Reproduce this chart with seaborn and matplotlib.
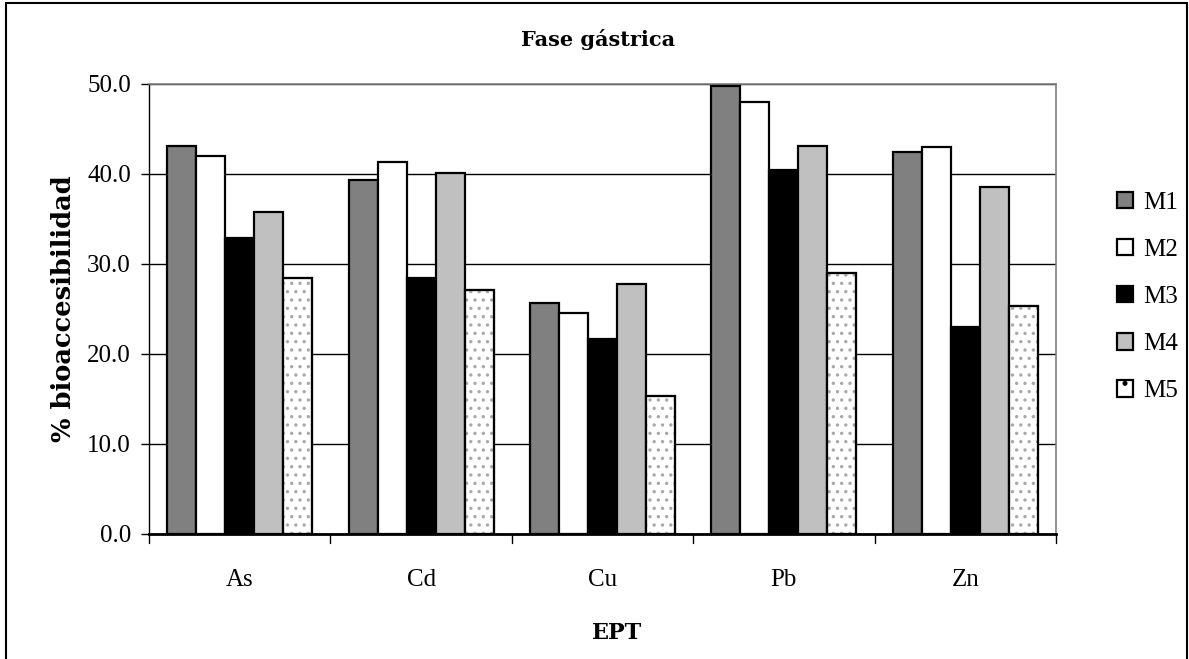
import matplotlib
matplotlib.use("Agg")
import matplotlib.pyplot as plt
import seaborn as sns
import pandas as pd
from matplotlib.patches import Rectangle
from matplotlib.lines import Line2D

elements = ["As", "Cd", "Cu", "Pb", "Zn"]
series = ["M1", "M2", "M3", "M4", "M5"]
m1 = [43.1, 39.3, 25.7, 49.8, 42.5]
m2 = [42.0, 41.3, 24.6, 48.0, 43.0]
m3 = [32.9, 28.5, 21.7, 40.5, 23.0]
m4 = [35.8, 40.1, 27.8, 43.1, 38.6]
m5 = [28.4, 27.1, 15.3, 29.0, 25.3]
yticks = [0, 10, 20, 30, 40, 50]

colors = ["#808080", "#ffffff", "#000000", "#c0c0c0", "#ffffff"]

rows = []
for name, vals in zip(series, [m1, m2, m3, m4, m5]):
    for e, v in zip(elements, vals):
        rows.append({"EPT": e, "Serie": name, "val": v})
df = pd.DataFrame(rows)

sns.set_theme(style="white")
plt.rcParams['font.family'] = ['Liberation Serif', 'DejaVu Serif']
plt.rcParams['text.color'] = 'black'
plt.rcParams['axes.labelcolor'] = 'black'
plt.rcParams['xtick.color'] = 'black'
plt.rcParams['ytick.color'] = 'black'
plt.rcParams['hatch.linewidth'] = 1.2

W, H = 1189, 659
fig = plt.figure(figsize=(W/100, H/100), dpi=100)
ax = fig.add_axes([149/W, 1 - 534/H, (1056-149)/W, (534-84)/H])

sns.barplot(data=df, x="EPT", y="val", hue="Serie", order=elements, hue_order=series,
            palette=colors, edgecolor="black", linewidth=1.6, width=0.8, ax=ax,
            saturation=1, legend=True, errorbar=None)

# M5 dotted pattern
n = len(elements)
bars = [p for p in ax.patches if p.get_height() > 0][:n*len(series)]
m5bars = bars[4*n:5*n]
for p in m5bars:
    p.set_hatch("..")
    p.set_edgecolor("#a8a8a8")
    ax.add_patch(Rectangle((p.get_x(), p.get_y()), p.get_width(), p.get_height(),
                           fill=False, edgecolor="black", linewidth=1.6, zorder=p.get_zorder()+0.1))

ax.set_ylim(0, 50)
ax.set_xlim(-0.5, n - 0.5)
ax.set_yticks(yticks)
ax.set_yticklabels([f"{t:.1f}" for t in yticks], fontsize=18)
ax.yaxis.grid(True, color="black", linewidth=1)
ax.set_axisbelow(True)

ax.set_xticks([i for i in range(n)])
ax.set_xticklabels(elements, fontsize=18)
ax.tick_params(axis="x", length=0, pad=25)
for b in [i - 0.5 for i in range(n + 1)]:
    ax.plot([b, b], [0, -0.95], color="black", lw=1, clip_on=False)
ax.tick_params(axis="y", direction="out", length=6, width=1, left=True, pad=7)

for s in ["top", "right"]:
    ax.spines[s].set_color("#808080")
    ax.spines[s].set_linewidth(1.2)
ax.spines["left"].set_color("black")
ax.spines["bottom"].set_color("black")
ax.spines["bottom"].set_linewidth(2)
ax.spines["left"].set_linewidth(1)

ax.set_xlabel("EPT", fontsize=16, fontweight="bold", family="DejaVu Serif")
ax.xaxis.set_label_coords((617 - 149) / 907, -(633 - 534) / 450)
ax.xaxis.label.set_va("center")
ax.set_ylabel("% bioaccesibilidad", fontsize=18.5, fontweight="bold", labelpad=8,
              family="DejaVu Serif")
fig.text(598/W, 1 - 40/H, "Fase gástrica", ha="center", va="center",
         fontsize=15, fontweight="bold", family="DejaVu Serif")

handles, labels = ax.get_legend_handles_labels()
for h in handles:
    h.set_linewidth(1.6)
handles[4].set_hatch(".")
handles[4].set_edgecolor("black")
ax.legend(handles, labels, loc="center left", bbox_to_anchor=(1117/W, 1 - 297/H),
          bbox_transform=fig.transFigure, frameon=False, fontsize=18,
          borderpad=0, borderaxespad=0,
          handlelength=0.64, handleheight=0.64, handletextpad=0.4, labelspacing=1.0)

# outer frame
for xs, ys in [([6/W, 6/W], [0, 1 - 3/H]), ([6/W, 1187/W], [1 - 3/H, 1 - 3/H]),
               ([1187/W, 1187/W], [1 - 3/H, 0])]:
    fig.add_artist(Line2D(xs, ys, color="black", lw=1.5, transform=fig.transFigure))

fig.savefig("out.png", dpi=100)
